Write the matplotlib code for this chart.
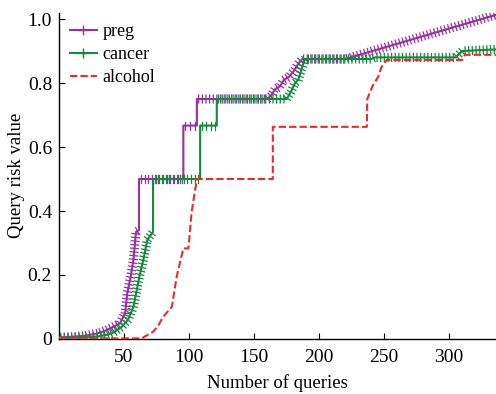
import numpy as np
import matplotlib
matplotlib.use('Agg')
import matplotlib.pyplot as plt
from matplotlib import patheffects
from matplotlib.lines import Line2D

plt.rcParams['font.family'] = ['Liberation Serif', 'DejaVu Serif']

# breakpoints (query number, risk value)
preg_x = [0, 10, 20, 30, 36.7, 46.9, 50.8, 52.5, 55.1, 57.2, 59.2, 61.5, 61.5,
          95.6, 95.6, 106, 106, 160, 163, 166, 170, 173, 177, 181, 184, 187, 220, 336]
preg_y = [0.005, 0.007, 0.01, 0.018, 0.028, 0.049, 0.08, 0.143, 0.195, 0.247, 0.335, 0.34, 0.5,
          0.5, 0.667, 0.667, 0.75, 0.75, 0.76, 0.78, 0.79, 0.81, 0.82, 0.84, 0.86, 0.875, 0.875, 1.013]

cancer_x = [0, 20, 30, 36.7, 42, 48.2, 53, 57.2, 61.8, 64.8, 67.9, 72.3, 72.3,
            108.5, 108.5, 121.3, 121.3, 175, 178, 181.5, 184, 187, 189, 240, 243, 305, 310, 336]
cancer_y = [0.003, 0.005, 0.008, 0.0125, 0.02, 0.038, 0.06, 0.10, 0.195, 0.247, 0.31, 0.335, 0.5,
            0.5, 0.667, 0.667, 0.75, 0.75, 0.77, 0.80, 0.81, 0.85, 0.875, 0.875, 0.88, 0.88, 0.9, 0.905]

alcohol_x = [0, 63.6, 72.5, 76, 80.2, 86.7, 90.5, 95.6, 99.5, 102, 106,
             164.4, 164.4, 236.7, 237, 241, 245.5, 248, 252, 310, 312, 336]
alcohol_y = [0.002, 0.002, 0.023, 0.04, 0.07, 0.10, 0.195, 0.283, 0.283, 0.398, 0.5,
             0.5, 0.663, 0.663, 0.75, 0.79, 0.82, 0.85, 0.872, 0.872, 0.888, 0.888]

PURPLE = '#9a2ea3'
GREEN  = '#14893a'
RED    = '#ec2a2a'


def split_jumps(xs, ys):
    # break the path into runs at vertical jumps so no marks land on them
    runs = [([xs[0]], [ys[0]])]
    for i in range(1, len(xs)):
        if xs[i] == xs[i - 1]:
            runs.append(([], []))
        runs[-1][0].append(xs[i])
        runs[-1][1].append(ys[i])
    return [r for r in runs if len(r[0]) > 1]


def plus_marks(ax, xs, ys, color, zorder):
    # '+' marks packed along the line, like one marker per query
    tick = dict(spacing=2.6, length=1.1, linewidth=0.9, foreground=color)
    effects = [patheffects.TickedStroke(angle=90, **tick),
               patheffects.TickedStroke(angle=-90, **tick)]
    for rx, ry in split_jumps(xs, ys):
        ax.plot(rx, ry, color=color, lw=1.5, zorder=zorder, path_effects=effects)


fig = plt.figure(figsize=(4.96, 3.94), dpi=100)
ax = fig.add_axes([0.119, 0.1396, 0.881, 0.8284])

ax.plot(preg_x, preg_y, color=PURPLE, lw=1.5, zorder=3)
plus_marks(ax, preg_x, preg_y, PURPLE, 3)
ax.plot(cancer_x, cancer_y, color=GREEN, lw=1.5, zorder=4)
plus_marks(ax, cancer_x, cancer_y, GREEN, 4)
ax.plot(alcohol_x, alcohol_y, color=RED, lw=1.5, ls=(0, (3.5, 1.5)), zorder=5)

ax.set_xlim(0, 336)
ax.set_ylim(0, 1.02)
ax.set_xticks([50, 100, 150, 200, 250, 300])
ax.set_yticks([0, 0.2, 0.4, 0.6, 0.8, 1.0])
ax.set_yticklabels(['0', '0.2', '0.4', '0.6', '0.8', '1.0'])
ax.tick_params(direction='in', length=4, width=0.8, labelsize=14)
ax.tick_params(axis='x', pad=7)
ax.tick_params(axis='y', pad=5)
ax.spines['top'].set_visible(False)
ax.spines['right'].set_visible(False)
ax.spines['left'].set_linewidth(1.0)
ax.spines['bottom'].set_linewidth(1.0)

ax.set_xlabel('Number of queries', fontsize=13.5, labelpad=6)
ax.set_ylabel('Query risk value', fontsize=13.5, labelpad=2)

handles = [Line2D([], [], color=PURPLE, lw=1.5, marker='+', ms=7, mew=1.0),
           Line2D([], [], color=GREEN, lw=1.5, marker='+', ms=7, mew=1.0),
           Line2D([], [], color=RED, lw=1.5, ls=(0, (3.5, 1.5)))]
ax.legend(handles, ['preg', 'cancer', 'alcohol'], loc='upper left',
          bbox_to_anchor=(0.0, 1.0), frameon=False, fontsize=13,
          handlelength=1.5, handletextpad=0.3, labelspacing=0.32, borderaxespad=0.2)

fig.savefig('out.png', dpi=100)
